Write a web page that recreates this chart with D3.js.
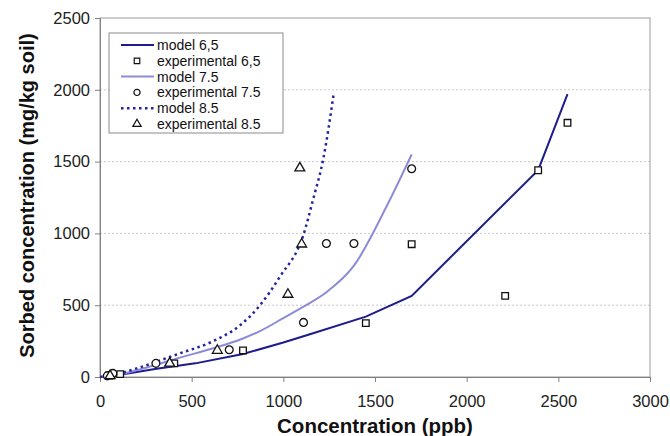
<!DOCTYPE html>
<html>
<head>
<meta charset="utf-8">
<script src="https://cdn.jsdelivr.net/npm/d3@7"></script>
<style>
  body { margin: 0; background: #fff; }
  svg { font-family: "Liberation Sans", Arial, sans-serif; }
</style>
</head>
<body>
<svg id="chart" width="670" height="436"></svg>
<script>
// model curves (ppb, mg/kg soil)
const model65X = [0, 110, 300, 520, 780, 1000, 1145, 1450, 1700, 2390, 2550];
const model65Y = [0, 15, 55, 95, 160, 240, 298, 420, 565, 1440, 1970];
const model75X = [0, 40, 70, 305, 436, 618, 773, 873, 1000, 1110, 1235, 1385, 1560, 1700];
const model75Y = [0, 5, 10, 85, 135, 200, 265, 320, 410, 490, 590, 775, 1180, 1550];
const model85X = [0, 55, 200, 436, 618, 764, 873, 982, 1109, 1164, 1218, 1275];
const model85Y = [0, 8, 60, 165, 250, 360, 500, 700, 988, 1244, 1520, 1975];

// experimental points
const exp65X = [50, 60, 110, 405, 780, 1450, 1700, 2210, 2390, 2550];
const exp65Y = [10, 12, 20, 95, 185, 375, 925, 565, 1440, 1770];
const exp75X = [40, 70, 305, 705, 1110, 1235, 1385, 1700];
const exp75Y = [8, 25, 95, 190, 380, 930, 930, 1450];
const exp85X = [55, 380, 640, 1025, 1100, 1090];
const exp85Y = [8, 95, 185, 575, 925, 1455];

const xTicks = [0, 500, 1000, 1500, 2000, 2500, 3000];
const yTicks = [0, 500, 1000, 1500, 2000, 2500];

const svg = d3.select('#chart');
const margin = { top: 18, right: 20, bottom: 59, left: 100 };
const width = 670 - margin.left - margin.right;
const height = 436 - margin.top - margin.bottom;

const x = d3.scaleLinear().domain([0, 3000]).range([0, width]);
const y = d3.scaleLinear().domain([0, 2500]).range([height, 0]);

const g = svg.append('g').attr('transform', `translate(${margin.left},${margin.top})`);

// grid
g.append('g')
  .selectAll('line')
  .data(yTicks.filter(d => d > 0 && d < 2500))
  .enter()
  .append('line')
  .attr('x1', 0)
  .attr('x2', width)
  .attr('y1', d => y(d))
  .attr('y2', d => y(d))
  .attr('stroke', '#c8c8c8')
  .attr('stroke-dasharray', '2,2');

// frame
g.append('rect')
  .attr('width', width)
  .attr('height', height)
  .attr('fill', 'none')
  .attr('stroke', '#9a9a9a');

const xAxis = g.append('g')
  .attr('transform', `translate(0,${height})`)
  .call(d3.axisBottom(x).tickValues(xTicks).tickFormat(d3.format('d')).tickSize(5).tickPadding(13));
const yAxis = g.append('g')
  .call(d3.axisLeft(y).tickValues(yTicks).tickFormat(d3.format('d')).tickSize(5).tickPadding(5));
[xAxis, yAxis].forEach(a => {
  a.select('.domain').attr('stroke', '#808080');
  a.selectAll('.tick line').attr('stroke', '#808080');
  a.selectAll('.tick text').attr('font-size', 16.5).attr('fill', '#222').attr('font-family', '"Liberation Sans", Arial, sans-serif');
});

// axis titles
svg.append('text')
  .attr('x', margin.left + width / 2)
  .attr('y', 433)
  .attr('text-anchor', 'middle')
  .attr('font-size', 20.5)
  .attr('font-weight', 'bold')
  .attr('fill', '#111')
  .text('Concentration (ppb)');
svg.append('text')
  .attr('transform', `translate(34,${margin.top + height / 2 - 2}) rotate(-90)`)
  .attr('text-anchor', 'middle')
  .attr('font-size', 20)
  .attr('font-weight', 'bold')
  .attr('fill', '#111')
  .text('Sorbed concentration (mg/kg soil)');

const zip = (xs, ys) => xs.map((v, i) => [v, ys[i]]);

const models = [
  { name: 'model 6,5', data: zip(model65X, model65Y), color: '#1c1c8c', dash: null, w: 2, curve: d3.curveLinear },
  { name: 'model 7.5', data: zip(model75X, model75Y), color: '#8c8cd6', dash: null, w: 2, curve: d3.curveMonotoneX },
  { name: 'model 8.5', data: zip(model85X, model85Y), color: '#2424a0', dash: '2.5,3.5', w: 2.5, curve: d3.curveMonotoneX }
];
models.forEach(m => {
  const line = d3.line().curve(m.curve).x(d => x(d[0])).y(d => y(d[1]));
  g.append('path')
    .datum(m.data)
    .attr('d', line)
    .attr('fill', 'none')
    .attr('stroke', m.color)
    .attr('stroke-width', m.w)
    .attr('stroke-dasharray', m.dash);
});

const sq = d3.symbol().type(d3.symbolSquare).size(44);
const ci = d3.symbol().type(d3.symbolCircle).size(48);
const tri = d3.symbol().type(d3.symbolTriangle).size(42);

const exps = [
  { name: 'experimental 6,5', data: zip(exp65X, exp65Y), sym: sq },
  { name: 'experimental 7.5', data: zip(exp75X, exp75Y), sym: ci },
  { name: 'experimental 8.5', data: zip(exp85X, exp85Y), sym: tri }
];
exps.forEach(e => {
  g.append('g')
    .selectAll('path')
    .data(e.data)
    .enter()
    .append('path')
    .attr('d', e.sym())
    .attr('transform', d => `translate(${x(d[0])},${y(d[1])})`)
    .attr('fill', '#fff')
    .attr('stroke', '#111')
    .attr('stroke-width', 1.3);
});

// legend
const legend = svg.append('g').attr('transform', 'translate(109,33)');
legend.append('rect')
  .attr('width', 174)
  .attr('height', 100)
  .attr('fill', '#fff')
  .attr('stroke', '#8a8a8a');
const items = [models[0], exps[0], models[1], exps[1], models[2], exps[2]];
items.forEach((it, i) => {
  const row = legend.append('g').attr('transform', `translate(0,${12 + i * 15.8})`);
  if (it.sym) {
    row.append('path')
      .attr('d', it.sym.size(30)())
      .attr('transform', 'translate(28,0)')
      .attr('fill', '#fff')
      .attr('stroke', '#111')
      .attr('stroke-width', 1.2);
  } else {
    row.append('line')
      .attr('x1', 12)
      .attr('x2', 45)
      .attr('stroke', it.color)
      .attr('stroke-width', it.w)
      .attr('stroke-dasharray', it.dash);
  }
  row.append('text')
    .attr('x', 48)
    .attr('y', 5)
    .attr('font-size', 14)
    .attr('fill', '#111')
    .text(it.name);
});
</script>
</body>
</html>
